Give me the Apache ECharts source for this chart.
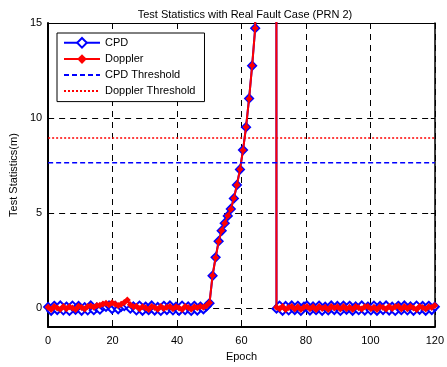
<!DOCTYPE html>
<html><head><meta charset="utf-8">
<script src="https://cdn.jsdelivr.net/npm/echarts@6/dist/echarts.min.js"></script>
<style>html,body{margin:0;padding:0;background:#fff}#c{width:447px;height:367px}</style>
</head><body><div id="c"></div>
<script>
// ---- data ----
const xTicks = [0, 20, 40, 60, 80, 100, 120];
const yTicks = [0, 5, 10, 15];
const cpdPre = [0.06,-0.14,0.12,-0.10,0.14,-0.12,0.08,-0.15,0.13,-0.09,
  0.11,-0.14,0.05,-0.12,0.14,-0.11,0.03,-0.08,0.09,0.06,
  0.14,-0.05,0.12,-0.06,0.07,0.10,0.17,-0.03,0.09,-0.12,
  0.13,-0.14,0.08,-0.11,0.14,-0.13,0.06,-0.15,0.12,-0.10,
  0.14,-0.12,0.07,-0.14,0.13,-0.11,0.09,-0.15,0.12,-0.13,
  0.08,-0.06,0.09];
const cpdRamp = [0.26,1.70,2.67,3.52,4.07,4.47,4.85,5.22,5.77,6.48,7.29,8.32,9.52,11.03,12.75,14.73];
const cpdHigh = [35,80,150,260,400,520];
const cpdPost = [-0.03,0.13,-0.14,0.11,-0.12,0.14,-0.10,0.12,-0.15,0.08,
  0.14,-0.13,0.09,-0.11,0.13,-0.14,0.07,-0.12,0.14,-0.10,
  0.11,-0.15,0.13,-0.09,0.12,-0.14,0.09,-0.11,0.14,-0.13,
  0.08,-0.12,0.13,-0.14,0.11,-0.10,0.14,-0.13,0.07,-0.15,
  0.12,-0.11,0.14,-0.12,0.09,-0.14,0.13,-0.09,0.11,-0.14,
  0.12,-0.10,0.07];
const dopPre = [0.04,-0.07,0.09,0.01,-0.06,0.08,-0.04,0.07,0.00,-0.08,
  0.10,0.03,-0.05,0.08,0.11,0.04,0.13,0.15,0.21,0.25,
  0.17,0.28,0.22,0.14,0.20,0.30,0.42,0.17,0.07,0.10,
  -0.04,0.07,0.02,-0.07,0.09,0.03,-0.06,0.08,-0.02,0.05,
  0.09,-0.04,0.07,0.00,-0.07,0.08,0.03,-0.06,0.07,0.02,
  0.09,0.04,0.12];
const dopRamp = [0.28,1.72,2.65,3.50,4.08,4.46,4.86,5.20,5.78,6.47,7.30,8.30,9.53,11.02,12.76,14.72];
const dopHigh = [35,80,150,260,400,520];
const dopPost = [0.05,-0.04,0.08,-0.07,0.03,0.09,-0.05,0.07,-0.08,0.05,
  0.08,-0.04,0.07,-0.07,0.09,-0.02,0.05,-0.08,0.08,0.00,
  0.07,-0.05,0.09,-0.04,0.05,-0.07,0.08,0.02,-0.05,0.07,
  0.09,-0.04,0.05,-0.08,0.07,0.03,-0.05,0.08,-0.02,0.07,
  0.10,-0.05,0.08,-0.04,0.09,0.00,-0.07,0.08,0.03,-0.05,
  0.07,0.03,0.14];
const cpdThreshold = 7.65;
const dopplerThreshold = 8.95;
const xRange = [0, 120];
const yRange = [-1, 15];

// ---- build ----
const cpd = cpdPre.concat(cpdRamp, cpdHigh, cpdPost);
const dop = dopPre.concat(dopRamp, dopHigh, dopPost);
const n = cpd.length;
const epochs = cpd.map((_, i) => i * (xRange[1] - xRange[0]) / (n - 1));
const FONT = 'Liberation Sans, Arial, sans-serif';

const chart = echarts.init(document.getElementById('c'), null, {renderer: 'canvas'});
function axisStyle(w) {
  return {
    axisLine: {show: true, onZero: false, lineStyle: {color: '#000', width: w}},
    axisTick: {show: true, inside: true, length: 4, lineStyle: {color: '#000', width: 1}}
  };
}
chart.setOption({
  animation: false,
  backgroundColor: '#fff',
  title: {
    text: 'Test Statistics with Real Fault Case (PRN 2)',
    left: 240, top: 4, textAlign: 'center',
    textStyle: {fontFamily: FONT, fontSize: 11, fontWeight: 'normal', color: '#000'}
  },
  grid: {left: 43, right: 9, top: 23, bottom: 34, show: false},
  legend: {
    orient: 'vertical', left: 57, top: 33,
    backgroundColor: '#fff', borderColor: '#000', borderWidth: 1,
    padding: [4, 9, 5, 6], itemGap: 5, itemWidth: 36, itemHeight: 12,
    textStyle: {fontFamily: FONT, fontSize: 11, color: '#000'},
    data: [
      {name: 'CPD'},
      {name: 'Doppler'},
      {name: 'CPD Threshold', itemStyle: {opacity: 0}},
      {name: 'Doppler Threshold', itemStyle: {opacity: 0}}
    ]
  },
  xAxis: [
    Object.assign({
      type: 'value', min: xRange[0], max: xRange[1], interval: 20, position: 'bottom',
      axisLabel: {fontFamily: FONT, fontSize: 11, color: '#000', margin: 8},
      splitLine: {show: true, lineStyle: {color: '#000', type: [6, 5], width: 1}},
      name: 'Epoch', nameLocation: 'middle', nameGap: 22,
      nameTextStyle: {fontFamily: FONT, fontSize: 11, color: '#000'}
    }, axisStyle(2)),
    Object.assign({
      type: 'value', min: xRange[0], max: xRange[1], interval: 20, position: 'top',
      axisLabel: {show: false}, splitLine: {show: false}
    }, axisStyle(1))
  ],
  yAxis: [
    Object.assign({
      type: 'value', min: yRange[0], max: yRange[1], splitNumber: 4, position: 'left',
      axisLabel: {fontFamily: FONT, fontSize: 11, color: '#000', margin: 6, showMinLabel: false},
      splitLine: {show: true, lineStyle: {color: '#000', type: [6, 5], width: 1}},
      name: 'Test Statistics(m)', nameLocation: 'middle', nameGap: 28,
      nameTextStyle: {fontFamily: FONT, fontSize: 11, color: '#000'}
    }, axisStyle(2)),
    Object.assign({
      type: 'value', min: yRange[0], max: yRange[1], splitNumber: 4, position: 'right',
      axisLabel: {show: false}, splitLine: {show: false}
    }, axisStyle(1.5))
  ],
  series: [
    {
      name: 'CPD', type: 'line', clip: true, z: 3,
      data: epochs.map((x, i) => [x, cpd[i]]),
      symbol: 'emptyDiamond', symbolSize: 8, showAllSymbol: true,
      color: '#0000ff',
      lineStyle: {color: '#0000ff', width: 2},
      itemStyle: {color: '#0000ff', borderWidth: 1.2}
    },
    {
      name: 'Doppler', type: 'line', clip: true, z: 4,
      data: epochs.map((x, i) => [x, dop[i]]),
      symbol: 'diamond', symbolSize: 7, showAllSymbol: true,
      color: '#ff0000',
      lineStyle: {color: '#ff0000', width: 2},
      itemStyle: {color: '#ff0000'}
    },
    {
      name: 'CPD Threshold', type: 'line', showSymbol: false, symbol: 'none', z: 5,
      data: [[xRange[0], cpdThreshold], [xRange[1], cpdThreshold]],
      color: '#0000ff',
      lineStyle: {color: '#0000ff', width: 1.5, type: [5, 3]}
    },
    {
      name: 'Doppler Threshold', type: 'line', showSymbol: false, symbol: 'none', z: 5,
      data: [[xRange[0], dopplerThreshold], [xRange[1], dopplerThreshold]],
      color: '#ff0000',
      lineStyle: {color: '#ff0000', width: 1.5, type: [2, 2]}
    }
  ]
});
</script></body></html>
